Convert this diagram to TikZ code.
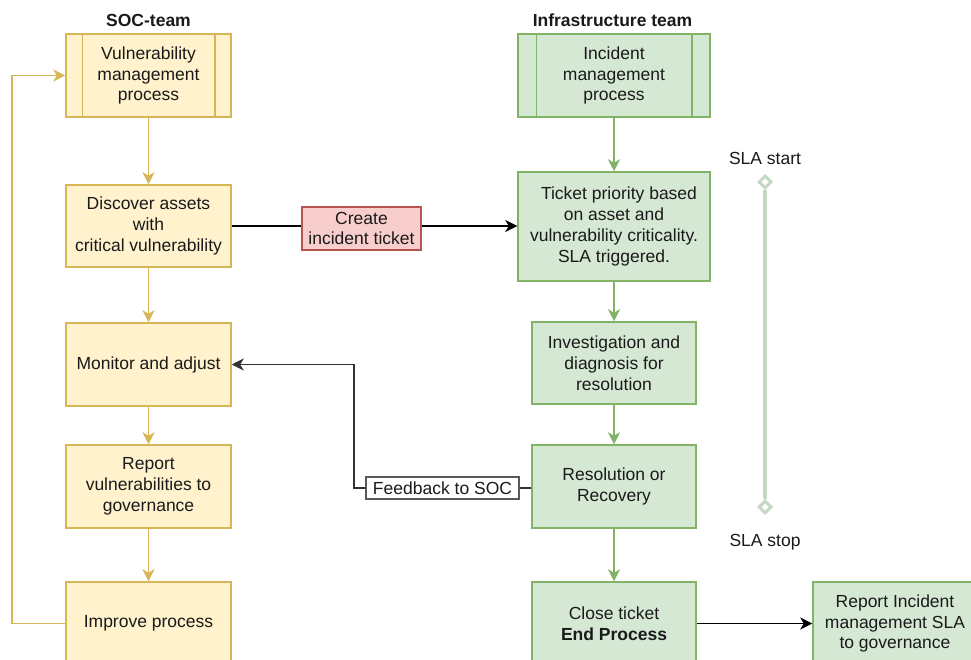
\documentclass[tikz,border=0pt]{standalone}
\usepackage{fontspec}
\setmainfont{Liberation Sans}
\usetikzlibrary{arrows.meta,shapes.geometric}
\definecolor{socfill}{HTML}{FFF2CC}
\definecolor{socline}{HTML}{D6B656}
\definecolor{infill}{HTML}{D5E8D4}
\definecolor{inline}{HTML}{82B366}
\definecolor{redfill}{HTML}{F8CECC}
\definecolor{redline}{HTML}{B85450}
\definecolor{slaline}{HTML}{C4D9C3}
\definecolor{txt}{HTML}{1A1A1A}
\begin{document}
\begin{tikzpicture}[x=1pt,y=-1pt,
  font=\fontsize{17.5}{20.8}\selectfont, text=txt,
  box/.style={draw, line width=1.5pt, inner sep=0pt, align=center, rectangle},
  soc/.style={box, fill=socfill, draw=socline, minimum width=165pt},
  infra/.style={box, fill=infill, draw=inline},
  tip/.style={-{Stealth[length=12pt,width=12pt,inset=3.5pt]}},
  socarrow/.style={tip, draw=socline, line width=1.5pt},
  infarrow/.style={tip, draw=inline, line width=1.5pt},
  blkarrow/.style={tip, draw=black, line width=1.5pt},
  title/.style={font=\fontsize{17.5}{20.8}\selectfont\bfseries},
  slamark/.style={diamond, draw=slaline, fill=white, line width=3pt, inner sep=0pt, minimum size=13pt}
]
\useasboundingbox (0,0) rectangle (971,660);
\clip (0,0) rectangle (971,660);

% column headings
\node[title] (soct) at (148.5,20) {SOC-team};
\node[title] (inft) at (612.5,20) {Infrastructure team};

% SOC column
\node[soc, minimum height=83pt] (vmp) at (148.5,75.5) {Vulnerability\\management\\process};
\draw[socline, line width=1.5pt] ([xshift=17pt]vmp.north west) -- ([xshift=17pt]vmp.south west)
  ([xshift=-17pt]vmp.north east) -- ([xshift=-17pt]vmp.south east);
\node[soc, minimum height=82pt] (disc) at (148.5,226) {Discover assets\\with\\critical vulnerability};
\node[soc, minimum height=83pt] (mon) at (148.5,364.5) {Monitor and adjust};
\node[soc, minimum height=83pt] (rep) at (148.5,486.5) {Report\\vulnerabilities to\\governance};
\node[soc, minimum height=83pt] (imp) at (148.5,623.5) {Improve process};

% infrastructure column
\node[infra, minimum width=192pt, minimum height=83pt] (imgmt) at (614,75.5) {Incident\\management\\process};
\draw[inline, line width=1.5pt] ([xshift=19pt]imgmt.north west) -- ([xshift=19pt]imgmt.south west)
  ([xshift=-19pt]imgmt.north east) -- ([xshift=-19pt]imgmt.south east);
\node[infra, minimum width=192pt, minimum height=109pt] (tick) at (614,226.5) {\hspace*{10pt}Ticket priority based\\on asset and\\vulnerability criticality.\\SLA triggered.};
\node[infra, minimum width=164pt, minimum height=82pt] (inv) at (614,363) {Investigation and\\diagnosis for\\resolution};
\node[infra, minimum width=164pt, minimum height=83pt] (res) at (614,486.5) {Resolution or\\Recovery};
\node[infra, minimum width=164pt, minimum height=83pt] (close) at (614,623.5) {Close ticket\\\textbf{End Process}};
\node[infra, minimum width=164pt, minimum height=83pt] (repinc) at (895,623.5) {Report Incident\\management SLA\\to governance};

% edge labels
\node[box, fill=redfill, draw=redline, minimum width=119pt, minimum height=43pt] (cit) at (361.5,228.5) {Create\\incident ticket};
\node[box, fill=white, draw=black!65, line width=1.2pt, minimum width=153pt, minimum height=22pt] (fb) at (442.5,488) {Feedback to SOC};

% SOC flow
\draw[socarrow] (vmp) -- (disc);
\draw[socarrow] (disc) -- (mon);
\draw[socarrow] (mon) -- (rep);
\draw[socarrow] (rep) -- (imp);
\coordinate (loopb) at (12,623.5);
\coordinate (loopt) at (12,75.5);
\draw[socarrow] (imp.west) -- (loopb) -- (loopt) -- (vmp.west);

% infrastructure flow
\draw[infarrow] (imgmt) -- (tick);
\draw[infarrow] (tick) -- (inv);
\draw[infarrow] (inv) -- (res);
\draw[infarrow] (res) -- (close);
\draw[blkarrow] (close) -- (repinc);

% handover between teams
\draw[black, line width=1.5pt] (disc.east) -- (disc.east -| cit.west);
\draw[blkarrow] (cit.east |- disc.east) -- (disc.east -| tick.west);

% feedback path
\coordinate (fbc) at (354,488);
\draw[black!80, line width=1.5pt] (res.west |- fb.east) -- (fb.east);
\draw[blkarrow, draw=black!80] (fb.west) -- (fbc) -- (fbc |- mon.east) -- (mon.east);

% SLA window
\node[slamark] (slaA) at (765,182) {};
\node[slamark] (slaB) at (765,507) {};
\draw[slaline, line width=3.5pt] (slaA.south) -- (slaB.north);
\node (slaAt) at (765,158) {SLA start};
\node (slaBt) at (765,542) {SLA stop};
\end{tikzpicture}
\end{document}
